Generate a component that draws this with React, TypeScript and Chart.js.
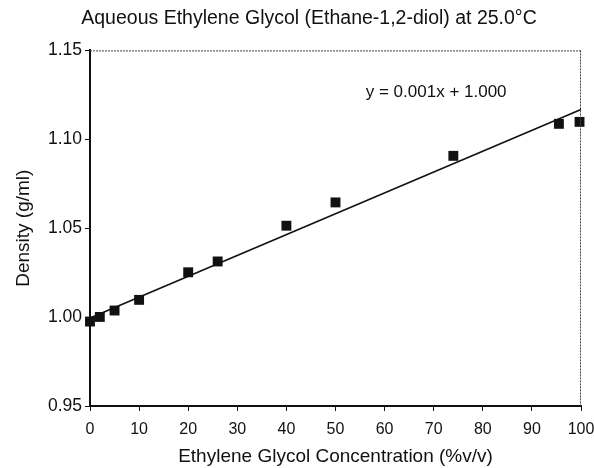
import React, { useEffect, useRef } from "react";
import { Chart, registerables } from "chart.js";

Chart.register(...registerables);

const titleText = "Aqueous Ethylene Glycol (Ethane-1,2-diol) at 25.0°C";
const xTitle = "Ethylene Glycol Concentration (%v/v)";
const yTitle = "Density (g/ml)";
const equationText = "y = 0.001x + 1.000";

const concentration = [0, 2, 5, 10, 20, 26, 40, 50, 74, 95.5, 99.7];
const density = [0.9975, 1.0001, 1.0037, 1.0097, 1.0252, 1.0313, 1.0514, 1.0645, 1.0907, 1.1087, 1.1098];

const trendX = [0, 100];
const trendY = [0.9995, 1.1168];

const equationPos = { x: 70.5, y: 1.1263 };

const FONT = "'Liberation Sans', Arial, Helvetica, sans-serif";

const framePlugin = {
  id: "frameAndEquation",
  afterDatasetsDraw(chart: any) {
    const { ctx, chartArea, scales } = chart;
    ctx.save();
    ctx.strokeStyle = "#444";
    ctx.lineWidth = 1;
    ctx.setLineDash([2, 1]);
    ctx.beginPath();
    ctx.moveTo(chartArea.left, chartArea.top + 0.5);
    ctx.lineTo(chartArea.right, chartArea.top + 0.5);
    ctx.moveTo(chartArea.right - 0.5, chartArea.top);
    ctx.lineTo(chartArea.right - 0.5, chartArea.bottom);
    ctx.stroke();
    ctx.setLineDash([]);
    ctx.fillStyle = "#111";
    ctx.font = `17px ${FONT}`;
    ctx.textAlign = "center";
    ctx.textBaseline = "middle";
    ctx.fillText(
      equationText,
      scales.x.getPixelForValue(equationPos.x),
      scales.y.getPixelForValue(equationPos.y)
    );
    ctx.restore();
  },
};

export default function App() {
  const ref = useRef<HTMLCanvasElement | null>(null);

  useEffect(() => {
    if (!ref.current) return;
    const chart = new Chart(ref.current, {
      type: "scatter",
      data: {
        datasets: [
          {
            label: "Trend",
            type: "line",
            data: trendX.map((x, i) => ({ x, y: trendY[i] })),
            borderColor: "#111",
            borderWidth: 1.6,
            pointRadius: 0,
            fill: false,
            clip: false,
          },
          {
            label: "Density",
            data: concentration.map((x, i) => ({ x, y: density[i] })),
            pointStyle: "rect",
            pointRadius: 7,
            backgroundColor: "#111",
            borderColor: "#111",
            borderWidth: 0,
            clip: false,
          },
        ],
      },
      options: {
        animation: false,
        responsive: true,
        maintainAspectRatio: false,
        layout: { padding: { left: 24, right: 0, top: 0, bottom: 0 } },
        plugins: {
          legend: { display: false },
          tooltip: { enabled: false },
          title: {
            display: true,
            text: titleText,
            color: "#111",
            font: { family: FONT, size: 19.5, weight: "normal" },
            padding: { top: 7, bottom: 20 },
          },
        },
        scales: {
          x: {
            type: "linear",
            min: 0,
            max: 100,
            ticks: {
              stepSize: 10,
              color: "#111",
              font: { family: FONT, size: 16 },
              padding: 9,
            },
            grid: {
              drawOnChartArea: false,
              drawTicks: true,
              tickLength: 5,
              color: "#111",
            },
            border: { color: "#111", width: 2 },
            title: {
              display: true,
              text: xTitle,
              color: "#111",
              font: { family: FONT, size: 19 },
              padding: { top: 0, bottom: 0 },
            },
            afterFit: (s: any) => {
              s.height = 62;
              s.paddingRight = 13;
            },
          },
          y: {
            type: "linear",
            min: 0.95,
            max: 1.15,
            ticks: {
              stepSize: 0.05,
              color: "#111",
              font: { family: FONT, size: 17.5 },
              padding: 3,
              callback: (v: any) => Number(v).toFixed(2),
            },
            grid: {
              drawOnChartArea: false,
              drawTicks: true,
              tickLength: 5,
              color: "#111",
            },
            border: { color: "#111", width: 2 },
            title: {
              display: true,
              text: yTitle,
              color: "#111",
              font: { family: FONT, size: 19 },
              padding: { top: -11.4, bottom: 0 },
            },
            afterFit: (s: any) => {
              s.width = 66;
            },
          },
        },
      },
      plugins: [framePlugin],
    });
    return () => chart.destroy();
  }, []);

  return (
    <div
      style={{
        position: "fixed",
        left: 0,
        top: 0,
        width: 594,
        height: 468,
        background: "#fff",
      }}
    >
      <canvas ref={ref} />
    </div>
  );
}
